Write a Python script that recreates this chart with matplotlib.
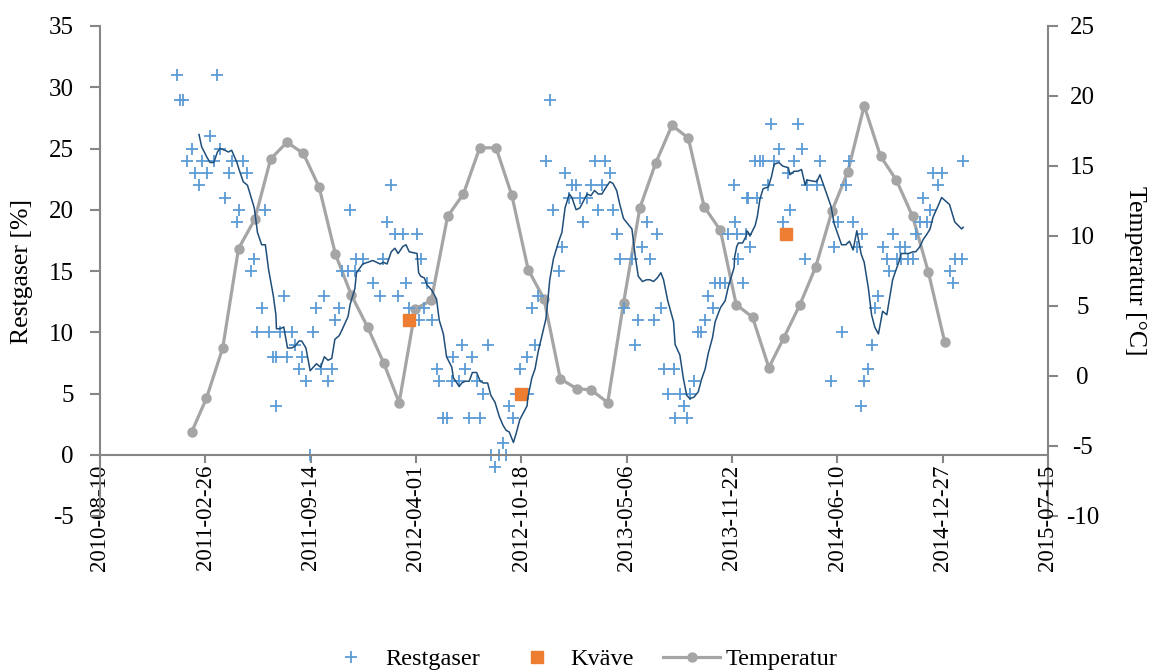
import matplotlib
matplotlib.use('Agg')

import matplotlib.pyplot as plt
import matplotlib.dates as mdates
import pandas as pd

# Dates are stored as Excel serial day numbers
EXCEL_EPOCH = '1899-12-30'

restgaser_serial = [
    40546, 40552, 40558, 40566, 40574, 40580, 40588, 40593, 40603, 40609,
    40616, 40623, 40628, 40637, 40644, 40650, 40660, 40664, 40672, 40680,
    40686, 40693, 40699, 40707, 40714, 40720, 40729, 40734, 40735, 40742,
    40749, 40756, 40764, 40770, 40778, 40783, 40791, 40799, 40805, 40811,
    40819, 40826, 40833, 40840, 40846, 40854, 40859, 40871, 40875, 40884,
    40887, 40899, 40918, 40932, 40938, 40945, 40953, 40960, 40966, 40975,
    40981, 40987, 41002, 41005, 41009, 41016, 41021, 41030, 41039, 41044,
    41052, 41058, 41068, 41071, 41082, 41087, 41093, 41101, 41107, 41115,
    41122, 41128, 41136, 41142, 41150, 41158, 41165, 41171, 41177, 41185,
    41190, 41197, 41211, 41212, 41220, 41226, 41232, 41247, 41254, 41261,
    41271, 41277, 41283, 41291, 41296, 41304, 41311, 41318, 41325, 41332,
    41339, 41346, 41353, 41359, 41368, 41374, 41381, 41387, 41394, 41410,
    41416, 41422, 41430, 41438, 41444, 41451, 41458, 41465, 41470, 41478,
    41489, 41492, 41501, 41508, 41514, 41520, 41528, 41536, 41542, 41549,
    41555, 41563, 41568, 41578, 41587, 41593, 41604, 41605, 41609, 41612,
    41620, 41627, 41628, 41631, 41634, 41644, 41648, 41653, 41659, 41669,
    41675, 41680, 41689, 41696, 41707, 41710, 41718, 41725, 41732, 41739,
    41742, 41761, 41767, 41788, 41794, 41801, 41808, 41816, 41823, 41830,
    41837, 41845, 41846, 41851, 41859, 41865, 41871, 41878, 41886, 41894,
    41899, 41905, 41913, 41919, 41920, 41928, 41935, 41944, 41949, 41957,
    41963, 41970, 41976, 41982, 41991, 41998, 42013, 42020, 42023, 42036,
    42039,
]
restgaser_pct = [
    31, 29, 29, 24, 25, 23, 22, 24, 23, 26,
    24, 31, 25, 21, 23, 24, 19, 20, 24, 23,
    15, 16, 10, 12, 20, 10, 8, 4, 8, 10,
    13, 8, 10, 9, 7, 8, 6, 0, 10, 12,
    7, 13, 6, 7, 11, 12, 15, 15, 20, 15,
    16, 16, 14, 13, 16, 19, 22, 18, 13, 18,
    14, 12, 18, 11, 16, 12, 14, 11, 7, 6,
    3, 3, 6, 8, 6, 9, 7, 3, 8, 6,
    3, 5, 9, 0, -1, 0, 1, 0, 4, 3,
    5, 7, 8, 5, 12, 9, 13, 24, 29, 20,
    15, 17, 23, 21, 22, 22, 21, 19, 21, 22,
    24, 20, 22, 24, 23, 20, 18, 16, 12, 16,
    9, 11, 17, 19, 16, 11, 18, 12, 7, 5,
    7, 3, 5, 4, 3, 5, 6, 10, 10, 11,
    13, 12, 14, 14, 14, 18, 22, 19, 18, 16,
    14, 18, 21, 21, 17, 24, 21, 24, 24, 22,
    27, 24, 25, 19, 23, 20, 24, 27, 25, 16,
    22, 22, 24, 6, 17, 19, 10, 22, 24, 19,
    17, 4, 18, 6, 7, 9, 12, 13, 17, 16,
    15, 18, 16, 17, 16, 17, 16, 16, 18, 19,
    21, 19, 20, 23, 22, 23, 15, 14, 16, 16,
    24,
]

kvave_serial = [40987, 41199, 41702]
kvave_pct = [11, 5, 18]

temp_months = pd.date_range('2011-01-31', periods=48, freq='ME')
temp_c = [
    -4.0, -1.6, 2.0, 9.1, 11.2, 15.5, 16.7, 15.9, 13.5, 8.7, 5.8, 3.5,
    0.9, -1.9, 4.8, 5.4, 11.4, 13.0, 16.3, 16.3, 12.9, 7.6, 5.5, -0.2,
    -0.9, -1.0, -1.9, 5.2, 12.0, 15.2, 17.9, 17.0, 12.1, 10.4, 5.1, 4.2,
    0.6, 2.7, 5.1, 7.8, 11.8, 14.6, 19.3, 15.7, 14.0, 11.4, 7.4, 2.4,
]

AXIS_GREY = '#868686'

plt.rcParams['font.family'] = ['Liberation Serif', 'DejaVu Serif']
plt.rcParams['font.size'] = 18.5
plt.rcParams['axes.unicode_minus'] = False


def to_date(serial):
    return pd.to_datetime(pd.Series(serial), unit='D', origin=EXCEL_EPOCH)


frame = pd.DataFrame({'date': to_date(restgaser_serial), 'pct': restgaser_pct})
frame = frame.sort_values('date').reset_index(drop=True)
# 7-point moving average trendline
frame['avg'] = frame['pct'].rolling(7).mean()

fig = plt.figure(figsize=(11.49, 6.72), dpi=100)
ax = fig.add_axes([100 / 1149, 1 - 516 / 672, 948 / 1149, 490 / 672])
ax2 = ax.twinx()
ax.set_zorder(ax2.get_zorder() + 1)
ax.patch.set_visible(False)

ax.plot(frame['date'], frame['pct'], ls='none', marker='+', color='#5B9BD5',
        ms=8, mew=1.3, label='Restgaser')
ax.plot(to_date(kvave_serial), kvave_pct, ls='none', marker='s', color='#ED7D31',
        ms=8.5, label='Kväve')
ax.plot(frame['date'], frame['avg'], color='#1F4E79', lw=1.1)
ax2.plot(temp_months, temp_c, '-o', color='#A5A5A5', lw=2.3, ms=6.5, label='Temperatur')

ax.set_ylim(-5, 35)
ax.set_yticks(range(-5, 36, 5))
ax2.set_ylim(-10, 25)
ax2.set_yticks(range(-10, 26, 5))
ax.set_xlim(to_date([40400])[0], to_date([42200])[0])
ax.set_xticks(to_date(list(range(40400, 42201, 200))))
ax.xaxis.set_major_formatter(mdates.DateFormatter('%Y-%m-%d'))

ax.spines['bottom'].set_position(('data', 0))
for side in ['top', 'right']:
    ax.spines[side].set_visible(False)
for side in ['top', 'left', 'bottom']:
    ax2.spines[side].set_visible(False)
for spine in [ax.spines['left'], ax.spines['bottom'], ax2.spines['right']]:
    spine.set_color(AXIS_GREY)
    spine.set_linewidth(1.5)

ax.tick_params(axis='y', length=7, width=1.5, color=AXIS_GREY, pad=12, labelsize=18)
ax.tick_params(axis='x', length=6, width=1.5, color=AXIS_GREY, pad=1, labelsize=16.5,
               labelrotation=90)
ax2.tick_params(axis='y', length=7, width=1.5, color=AXIS_GREY, pad=18, labelsize=18)
for tick in ax2.get_yticklabels():
    tick.set_horizontalalignment('center')

fig.text(22 / 1149, 1 - 271 / 672, 'Restgaser [%]', rotation=90, ha='center', va='center')
fig.text(1135 / 1149, 1 - 271 / 672, 'Temperatur [°C]', rotation=270, ha='center', va='center')

handles, labels = ax.get_legend_handles_labels()
h2, l2 = ax2.get_legend_handles_labels()
fig.legend(handles + h2, labels + l2, loc='center', bbox_to_anchor=(580 / 1149, 1 - 659 / 672),
           ncol=3, frameon=False, fontsize=17.5, handlelength=2.35, handletextpad=0.2,
           columnspacing=1.2)

fig.savefig('out.png', dpi=100)
